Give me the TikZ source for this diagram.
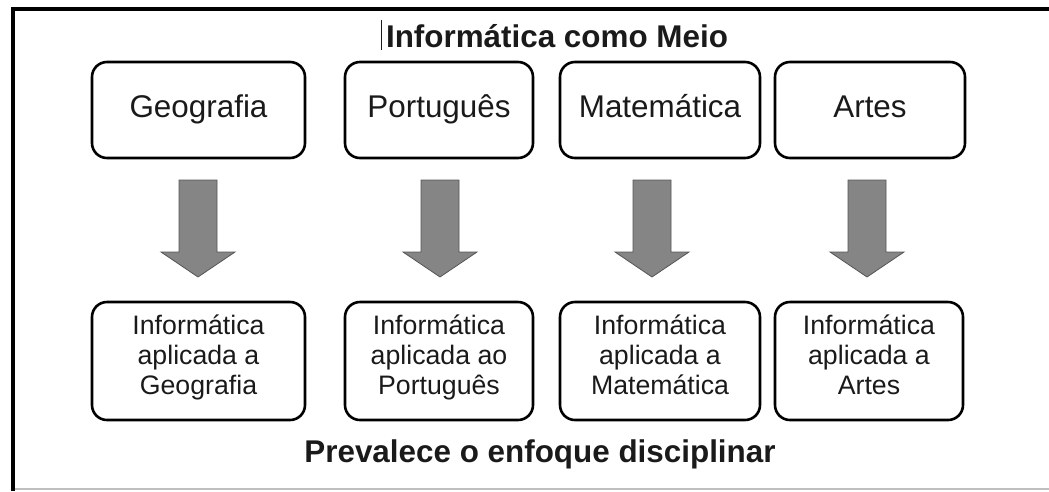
\documentclass[tikz,border=0pt]{standalone}
\usepackage{fontspec}
\setmainfont{Liberation Sans}
\definecolor{arrowfill}{HTML}{858585}
\definecolor{arrowline}{HTML}{555555}
\definecolor{inkc}{HTML}{1A1A1A}
\begin{document}
\begin{tikzpicture}[x=1pt,y=-1pt,
  topbox/.style={draw=black, line width=2.6pt, rounded corners=15pt, minimum height=96pt,
    text=inkc, font=\fontsize{31.4}{36}\selectfont, inner sep=0pt,
    text height=25pt, text depth=10pt},
  botbox/.style={draw=black, line width=2.6pt, rounded corners=15pt, minimum height=118pt,
    text=inkc, align=center, font=\fontsize{26.7}{30}\selectfont, inner sep=0pt,
    text height=80pt, text depth=14pt},
  headline/.style={text=inkc, font=\fontsize{31.4}{36}\selectfont\bfseries, inner sep=0pt, anchor=base},
  blockarrow/.style={fill=arrowfill, draw=arrowline, line width=0.8pt, line join=miter}
]
\useasboundingbox (0,0) rectangle (1049,491);
% frame
\draw[line width=4pt] (12,9) coordinate (fa) -- (1049,9) coordinate (fb);
\draw[line width=4pt] (13,7) coordinate (fc) -- (13,491) coordinate (fd);
\draw[line width=1.5pt, black!25] (15,489) coordinate (fe) -- (1049,489) coordinate (ff);

% title
\node[headline] (title) at (557,47) {Informática como Meio};
\draw[line width=1.3pt, inkc] ([xshift=-4pt]title.west |- 0,20) coordinate (cur1) -- ([xshift=-4pt]title.west |- 0,50) coordinate (cur2);

% top boxes
\node[topbox, minimum width=213pt] (t1) at (198.5,110) {Geografia};
\node[topbox, minimum width=188pt] (t2) at (439,110) {Português};
\node[topbox, minimum width=200pt] (t3) at (660,110) {Matemática};
\node[topbox, minimum width=190pt] (t4) at (870,110) {Artes};

% bottom boxes
\node[botbox, minimum width=213pt] (b1) at (198.5,361) {Informática\\aplicada a\\Geografia};
\node[botbox, minimum width=188pt] (b2) at (439,361) {Informática\\aplicada ao\\Português};
\node[botbox, minimum width=200pt] (b3) at (660,361) {Informática\\aplicada a\\Matemática};
\node[botbox, minimum width=188pt] (b4) at (869,361) {Informática\\aplicada a\\Artes};

% arrows
\coordinate (a1) at (198,180);
\coordinate (a2) at (440,180);
\coordinate (a3) at (652,180);
\coordinate (a4) at (867,180);
\foreach \a in {a1,a2,a3,a4}{
  \draw[blockarrow, shift={(\a)}] (-19,0) -- (19,0) -- (19,72) -- (37,72) -- (0,97) -- (-37,72) -- (-19,72) -- cycle;
}

% bottom caption
\node[headline] (caption) at (540,462) {Prevalece o enfoque disciplinar};
\end{tikzpicture}
\end{document}
